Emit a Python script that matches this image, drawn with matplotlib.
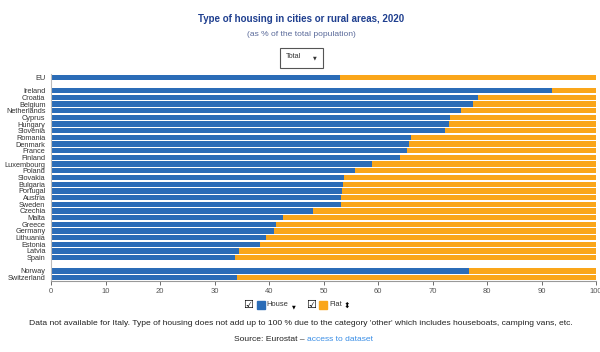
import matplotlib.pyplot as plt
from matplotlib.patches import Rectangle

plt.rcParams['font.family'] = ['Liberation Sans', 'DejaVu Sans']

# share of population living in a house (%), flat fills the rest of the bar
eu = ['EU']
eu_house = [53.0]
countries = ['Ireland', 'Croatia', 'Belgium', 'Netherlands', 'Cyprus', 'Hungary',
             'Slovenia', 'Romania', 'Denmark', 'France', 'Finland', 'Luxembourg',
             'Poland', 'Slovakia', 'Bulgaria', 'Portugal', 'Austria', 'Sweden',
             'Czechia', 'Malta', 'Greece', 'Germany', 'Lithuania', 'Estonia',
             'Latvia', 'Spain']
countries_house = [91.9, 78.4, 77.4, 75.2, 73.2, 73.0, 72.3, 66.0, 65.6, 65.4, 64.1,
                   58.9, 55.8, 53.7, 53.6, 53.4, 53.2, 53.2, 48.1, 42.6, 41.2, 41.0,
                   39.4, 38.3, 34.5, 33.8]
efta = ['Norway', 'Switzerland']
efta_house = [76.7, 34.2]

labels = eu + countries + efta
house = eu_house + countries_house + efta_house
flat = [100 - h for h in house]

# slot positions with empty rows between the groups
pos = [0] + list(range(2, 2 + len(countries))) + [len(countries) + 3, len(countries) + 4]

blue = '#2b6cb7'
orange = '#faa61a'
cx = 301 / 600

fig = plt.figure(figsize=(6, 3.52), dpi=100)
ax = fig.add_axes([51 / 600, 1 - 281 / 352, 545 / 600, 207 / 352])

ax.barh(pos, house, height=0.8, color=blue, edgecolor='none')
ax.barh(pos, flat, left=house, height=0.8, color=orange, edgecolor='none')

ax.set_xlim(0, 100)
ax.set_ylim(pos[-1] + 0.5, -0.5)
ax.set_yticks(pos)
ax.set_yticklabels(labels, fontsize=5.3, color='#333333')
ax.tick_params(axis='y', length=0, pad=4)
ax.set_xticks(range(0, 101, 10))
ax.tick_params(axis='x', labelsize=5.5, labelcolor='#555555', length=3, width=0.6,
               pad=2, color='#555555')
for s in ['top', 'right']:
    ax.spines[s].set_visible(False)
ax.spines['left'].set_color('#bbbbbb')
ax.spines['left'].set_linewidth(0.8)
ax.spines['bottom'].set_color('#999999')
ax.spines['bottom'].set_linewidth(0.8)

# title and subtitle
fig.text(cx, 1 - 19.5 / 352, 'Type of housing in cities or rural areas, 2020', ha='center',
         va='center', fontsize=7.0, fontweight='bold', color='#1f3f8f')
fig.text(cx, 1 - 34.5 / 352, '(as % of the total population)', ha='center', va='center',
         fontsize=6.1, color='#5a6a9a')

# dropdown box
fig.patches.append(Rectangle((279.5 / 600, 1 - 67.5 / 352), 43 / 600, 20 / 352,
                             transform=fig.transFigure, fill=False, edgecolor='#555555',
                             linewidth=0.8))
fig.text(286 / 600, 1 - 57 / 352, 'Total', va='center', fontsize=5.3, color='#333333')
fig.text(314.7 / 600, 1 - 57.5 / 352, '\u25bc', va='center', ha='center', fontsize=3.5,
         color='#333333', family='DejaVu Sans')

# legend
ly = 1 - 305 / 352
fig.text(248 / 600, ly, '\u2611', va='center', ha='center', fontsize=8, family='DejaVu Sans')
fig.patches.append(Rectangle((257.3 / 600, ly - 4 / 352), 8 / 600, 8 / 352,
                             transform=fig.transFigure, color=blue))
fig.text(266.5 / 600, ly, 'House', va='center', fontsize=5.4, color='#333333')
fig.text(294.3 / 600, ly - 1.5 / 352, '\u25bc', va='center', ha='center', fontsize=3.5,
         family='DejaVu Sans')
fig.text(310.7 / 600, ly, '\u2611', va='center', ha='center', fontsize=8, family='DejaVu Sans')
fig.patches.append(Rectangle((319.3 / 600, ly - 4 / 352), 8 / 600, 8 / 352,
                             transform=fig.transFigure, color=orange))
fig.text(329 / 600, ly, 'Flat', va='center', fontsize=5.4, color='#333333')
fig.text(346.7 / 600, ly, '\u2b0d', va='center', ha='center', fontsize=5.5,
         family='DejaVu Sans')

# notes
fig.text(cx, 1 - 323.3 / 352,
         "Data not available for Italy. Type of housing does not add up to 100 % due to the "
         "category 'other' which includes houseboats, camping vans, etc.",
         ha='center', va='center', fontsize=6.1, color='#222222')
src = fig.text(234 / 600, 1 - 339.5 / 352, 'Source: Eurostat \u2013', va='center',
               fontsize=6.1, color='#222222')
fig.canvas.draw()
x1 = src.get_window_extent().transformed(fig.transFigure.inverted()).x1
fig.text(x1 + 2.5 / 600, 1 - 339.5 / 352, 'access to dataset', va='center', fontsize=6.1,
         color='#3a8ee6')

fig.savefig('out.png', dpi=100)
